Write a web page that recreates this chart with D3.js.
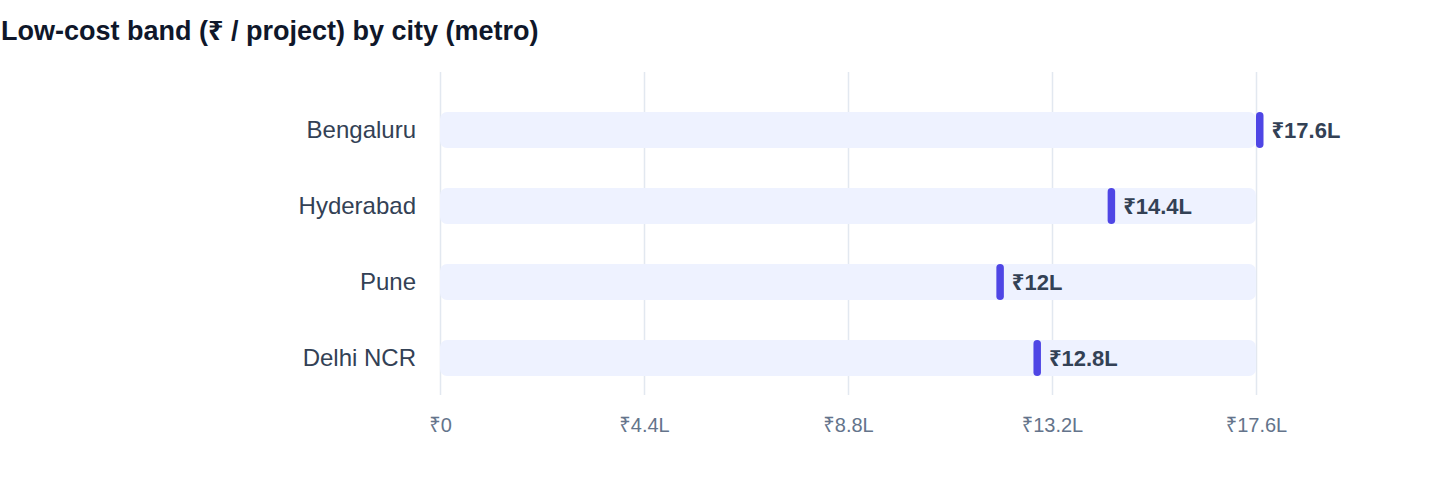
<!DOCTYPE html>
<html>
<head>
<meta charset="utf-8">
<script src="https://cdn.jsdelivr.net/npm/d3@7"></script>
<style>
  body { margin: 0; background: #fff; }
  svg text { font-family: "Liberation Sans", Arial, Helvetica, "Noto Sans", sans-serif; }
</style>
</head>
<body>
<div id="chart"></div>
<script>
// data (values in lakh rupees)
var cities = ["Bengaluru", "Hyderabad", "Pune", "Delhi NCR"];
var lowCost = [17.6, 14.4, 12, 12.8];
var tickValues = [0, 4.4, 8.8, 13.2, 17.6];
var maxValue = 17.6;

var width = 1440,
    height = 484;

var svg = d3.select("#chart")
    .append("svg")
    .attr("width", width)
    .attr("height", height);

svg.append("text")
    .attr("x", 1)
    .attr("y", 40)
    .style("font-size", "27px")
    .style("font-weight", 700)
    .style("fill", "#0f172a")
    .text("Low-cost band (₹ / project) by city (metro)");

var x = d3.scaleLinear()
    .domain([0, maxValue])
    .range([440, 1256]);

var y = d3.scaleBand()
    .domain(cities)
    .range([92, 396])
    .paddingInner(40 / 76)
    .paddingOuter(20 / 76);

var fmt = function (v) { return v === 0 ? "₹0" : "₹" + v + "L"; };

// grid + tick labels
var axis = svg.append("g")
    .attr("transform", "translate(0,395)")
    .call(d3.axisBottom(x)
        .tickValues(tickValues)
        .tickFormat(fmt)
        .tickSize(-(395 - 72))
        .tickPadding(23));

axis.select(".domain").remove();
axis.selectAll(".tick line")
    .attr("stroke", "#e2e8f0")
    .attr("stroke-width", 1.5);
axis.selectAll(".tick text")
    .style("font-family", "'Liberation Sans', Arial, 'Noto Sans', sans-serif")
    .style("font-size", "20px")
    .style("fill", "#64748b");

var rows = svg.append("g")
    .selectAll("g")
    .data(cities)
    .enter()
    .append("g");

// background track
rows.append("rect")
    .attr("x", x(0))
    .attr("y", function (d) { return y(d); })
    .attr("width", x(maxValue) - x(0))
    .attr("height", y.bandwidth())
    .attr("rx", 7)
    .style("fill", "#eef2ff");

// marker
rows.append("rect")
    .attr("x", function (d, i) { return x(lowCost[i]); })
    .attr("y", function (d) { return y(d); })
    .attr("width", 7.5)
    .attr("height", y.bandwidth())
    .attr("rx", 3.75)
    .style("fill", "#4f46e5");

// city labels
rows.append("text")
    .attr("x", 416)
    .attr("y", function (d) { return y(d) + y.bandwidth() / 2; })
    .attr("dy", "0.35em")
    .attr("text-anchor", "end")
    .style("font-size", "24px")
    .style("fill", "#334155")
    .text(function (d) { return d; });

// value labels
rows.append("text")
    .attr("x", function (d, i) { return x(lowCost[i]) + 15.5; })
    .attr("y", function (d) { return y(d) + y.bandwidth() / 2; })
    .attr("dy", "0.35em")
    .style("font-size", "22px")
    .style("font-weight", 700)
    .style("fill", "#334155")
    .text(function (d, i) { return fmt(lowCost[i]); });
</script>
</body>
</html>
